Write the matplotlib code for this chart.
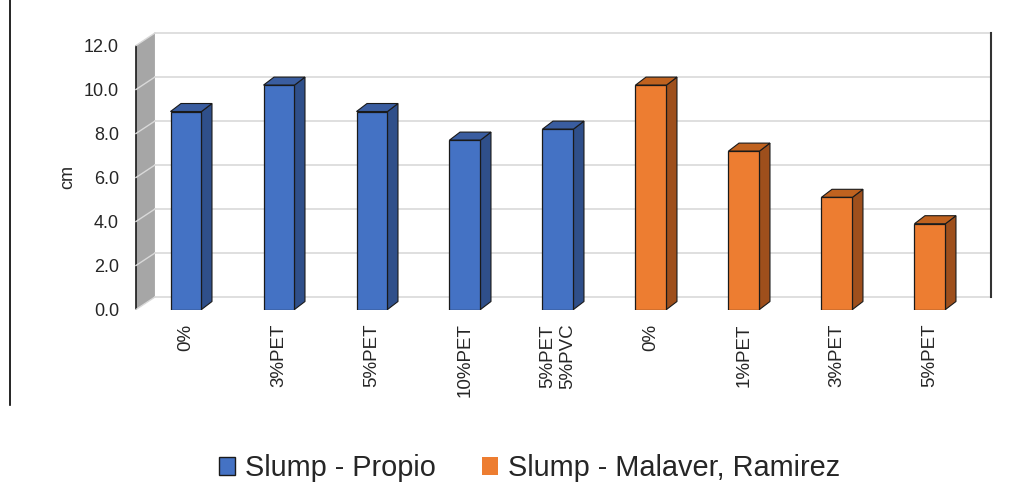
import numpy as np
import matplotlib.pyplot as plt
from matplotlib.patches import Polygon, Rectangle, Patch
from matplotlib.lines import Line2D

plt.rcParams['font.family'] = ['Liberation Sans', 'DejaVu Sans']

# data
labels_propio = ['0%', '3%PET', '5%PET', '10%PET', '5%PET\n5%PVC']
labels_malaver = ['0%', '1%PET', '3%PET', '5%PET']
slump_propio = [9.0, 10.2, 9.0, 7.7, 8.2]
slump_malaver = [10.2, 7.2, 5.1, 3.9]
yticks = [0, 2, 4, 6, 8, 10, 12]

# colours: front, side, top
blue = ['#4472C4', '#2F4F8A', '#3A5DA0']
orange = ['#ED7D31', '#9E4F1C', '#C0621F']

fig = plt.figure(figsize=(10.3, 4.83), dpi=100)
ax = fig.add_axes([0.1264, 0.3592, 0.8442, 0.583])
ax.set_xlim(-0.6, 8.75)
ax.set_ylim(0, 12.8)
for s in ax.spines.values():
    s.set_visible(False)

# 3d offsets (data units)
wdx, wdy = 0.204, 0.568   # walls
bdx, bdy = 0.113, 0.364   # bars
bw = 0.333
x0 = -0.538
xr = 8.653

# side wall
ax.add_patch(Polygon([(x0, 0), (x0 + wdx, wdy), (x0 + wdx, 12 + wdy), (x0, 12)],
                     closed=True, facecolor='#A6A6A6', edgecolor='none', zorder=1))
ax.plot([x0, x0], [0, 12], color='#1a1a1a', lw=1.2, zorder=2)
for t in yticks:
    ax.plot([x0, x0 + wdx], [t, t + wdy], color='#D9D9D9', lw=1, zorder=2)
    ax.plot([x0 + wdx, xr], [t + wdy, t + wdy], color='#D9D9D9', lw=1.2, zorder=1)
ax.plot([xr, xr], [wdy, 12 + wdy], color='#333333', lw=1.5, zorder=2)


def bar3d(x, v, cols):
    l, r = x - bw / 2, x + bw / 2
    ax.add_patch(Polygon([(r, 0), (r + bdx, bdy), (r + bdx, v + bdy), (r, v)],
                         closed=True, facecolor=cols[1], edgecolor='#1a1a1a', lw=0.8, zorder=3))
    ax.add_patch(Polygon([(l, v), (l + bdx, v + bdy), (r + bdx, v + bdy), (r, v)],
                         closed=True, facecolor=cols[2], edgecolor='#1a1a1a', lw=0.8, zorder=3))
    ax.add_patch(Rectangle((l, 0), bw, v, facecolor=cols[0], edgecolor='#1a1a1a', lw=0.9, zorder=4))


n1 = len(slump_propio)
for i, v in enumerate(slump_propio):
    bar3d(i, v, blue)
for i, v in enumerate(slump_malaver):
    bar3d(n1 + i, v, orange)

ax.set_yticks(yticks)
ax.set_yticklabels(['%.1f' % t for t in yticks], fontsize=13, color='#262626')
ax.set_xticks(range(n1 + len(slump_malaver)))
ax.set_xticklabels(labels_propio + labels_malaver, rotation=90, fontsize=13.5,
                   color='#262626', va='top', ha='center')
ax.tick_params(axis='y', length=0, pad=8)
ax.tick_params(axis='x', length=0, pad=10)

fig.text(68 / 1030, 1 - 177 / 483, 'cm', rotation=90, fontsize=13,
         color='#262626', ha='center', va='center')

# frame line on left edge
fig.add_artist(Line2D([10 / 1030, 10 / 1030], [1.0, 1 - 405 / 483],
                      transform=fig.transFigure, color='black', lw=1.2))

handles = [Patch(facecolor=blue[0], edgecolor='#1a1a1a', lw=1, label='Slump - Propio'),
           Patch(facecolor=orange[0], edgecolor='none', label='Slump - Malaver, Ramirez')]
fig.legend(handles=handles, loc='center', bbox_to_anchor=(0.514, 0.031), ncol=2,
           fontsize=20.8, frameon=False, handlelength=0.55, handleheight=0.55,
           handletextpad=0.35, columnspacing=1.6, labelcolor='#262626')

fig.savefig('out.png', dpi=100)
